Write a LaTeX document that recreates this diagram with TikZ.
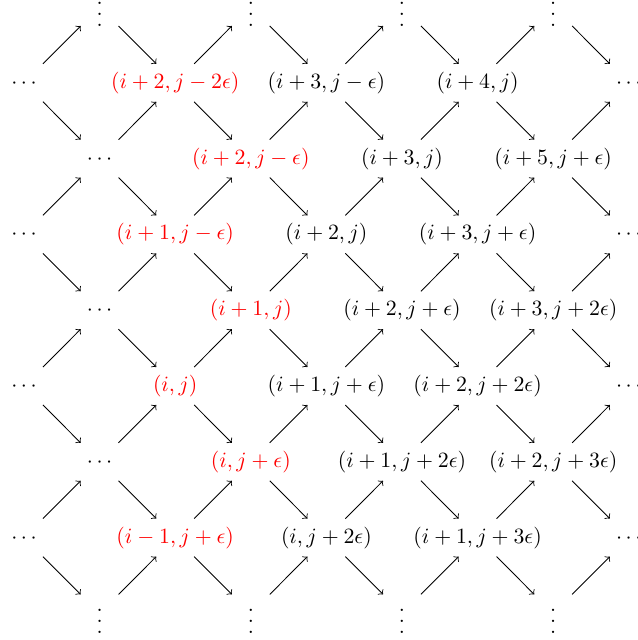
\documentclass[tikz,border=0pt]{standalone}
\newcommand{\myvd}{\vbox{\baselineskip=5pt\lineskiplimit=0pt\hbox{.}\hbox{.}\hbox{.}}}
\tikzset{
  cell/.style={inner sep=0pt, text height=7.5pt, text depth=2.5pt},
  hot/.style={cell, text=red},
  vd/.style={cell},
  arr/.style={->, shorten <=12.3pt, shorten >=12.3pt}
}
\begin{document}
\begin{tikzpicture}[x=0.4587pt,y=-0.4587pt]
\useasboundingbox (0,0) rectangle (638,640);
% row 0
\node[vd] (n-0-1) at (99.6,7) {\raisebox{-6.5pt}{\myvd}};
\node[vd] (n-0-3) at (250.8,7) {\raisebox{-6.5pt}{\myvd}};
\node[vd] (n-0-5) at (402,7) {\raisebox{-6.5pt}{\myvd}};
\node[vd] (n-0-7) at (553.2,7) {\raisebox{-6.5pt}{\myvd}};
% row 1
\node[cell] (n-1-0) at (24,82.8) {$\cdots$};
\node[hot] (n-1-2) at (175.2,82.8) {$(i+2,j-2\epsilon)$};
\node[cell] (n-1-4) at (326.4,82.8) {$(i+3,j-\epsilon)$};
\node[cell] (n-1-6) at (477.6,82.8) {$(i+4,j)$};
\node[cell] (n-1-8) at (628.8,82.8) {$\cdots$};
% row 2
\node[cell] (n-2-1) at (99.6,158.6) {$\cdots$};
\node[hot] (n-2-3) at (250.8,158.6) {$(i+2,j-\epsilon)$};
\node[cell] (n-2-5) at (402,158.6) {$(i+3,j)$};
\node[cell] (n-2-7) at (553.2,158.6) {$(i+5,j+\epsilon)$};
% row 3
\node[cell] (n-3-0) at (24,234.4) {$\cdots$};
\node[hot] (n-3-2) at (175.2,234.4) {$(i+1,j-\epsilon)$};
\node[cell] (n-3-4) at (326.4,234.4) {$(i+2,j)$};
\node[cell] (n-3-6) at (477.6,234.4) {$(i+3,j+\epsilon)$};
\node[cell] (n-3-8) at (628.8,234.4) {$\cdots$};
% row 4
\node[cell] (n-4-1) at (99.6,310.2) {$\cdots$};
\node[hot] (n-4-3) at (250.8,310.2) {$(i+1,j)$};
\node[cell] (n-4-5) at (402,310.2) {$(i+2,j+\epsilon)$};
\node[cell] (n-4-7) at (553.2,310.2) {$(i+3,j+2\epsilon)$};
% row 5
\node[cell] (n-5-0) at (24,386) {$\cdots$};
\node[hot] (n-5-2) at (175.2,386) {$(i,j)$};
\node[cell] (n-5-4) at (326.4,386) {$(i+1,j+\epsilon)$};
\node[cell] (n-5-6) at (477.6,386) {$(i+2,j+2\epsilon)$};
\node[cell] (n-5-8) at (628.8,386) {$\cdots$};
% row 6
\node[cell] (n-6-1) at (99.6,461.8) {$\cdots$};
\node[hot] (n-6-3) at (250.8,461.8) {$(i,j+\epsilon)$};
\node[cell] (n-6-5) at (402,461.8) {$(i+1,j+2\epsilon)$};
\node[cell] (n-6-7) at (553.2,461.8) {$(i+2,j+3\epsilon)$};
% row 7
\node[cell] (n-7-0) at (24,537.6) {$\cdots$};
\node[hot] (n-7-2) at (175.2,537.6) {$(i-1,j+\epsilon)$};
\node[cell] (n-7-4) at (326.4,537.6) {$(i,j+2\epsilon)$};
\node[cell] (n-7-6) at (477.6,537.6) {$(i+1,j+3\epsilon)$};
\node[cell] (n-7-8) at (628.8,537.6) {$\cdots$};
% row 8
\node[vd] (n-8-1) at (99.6,613.4) {\raisebox{-6.5pt}{\myvd}};
\node[vd] (n-8-3) at (250.8,613.4) {\raisebox{-6.5pt}{\myvd}};
\node[vd] (n-8-5) at (402,613.4) {\raisebox{-6.5pt}{\myvd}};
\node[vd] (n-8-7) at (553.2,613.4) {\raisebox{-6.5pt}{\myvd}};
% arrows
\foreach \r in {0,...,8}{
  \foreach \c in {0,...,7}{
    \pgfmathtruncatemacro\s{\r+\c}
    \ifodd\s
      \pgfmathtruncatemacro\cn{\c+1}
      \pgfmathtruncatemacro\ru{\r-1}
      \pgfmathtruncatemacro\rd{\r+1}
      \ifnum\r>0 \draw[arr] (n-\r-\c.center) -- (n-\ru-\cn.center);\fi
      \ifnum\r<8 \draw[arr] (n-\r-\c.center) -- (n-\rd-\cn.center);\fi
    \fi
  }
}
\end{tikzpicture}
\end{document}
